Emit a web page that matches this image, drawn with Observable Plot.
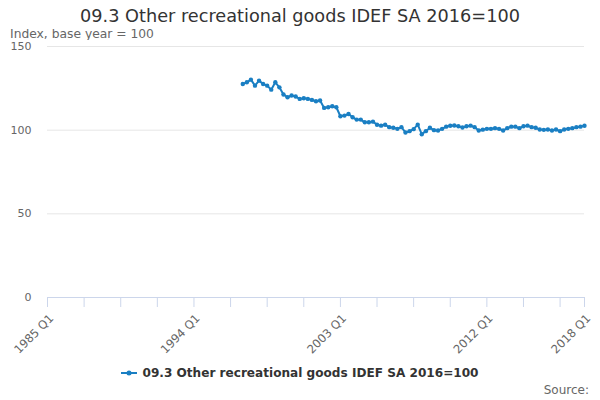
<!DOCTYPE html>
<html>
<head>
<meta charset="utf-8">
<script src="https://cdn.jsdelivr.net/npm/d3@7"></script>
<script src="https://cdn.jsdelivr.net/npm/@observablehq/plot@0.6"></script>
<style>
  html, body { margin: 0; padding: 0; background: #fff; }
  #wrap { position: relative; width: 600px; height: 400px; font-family: "DejaVu Sans", sans-serif; overflow: hidden; }
  #title { position: absolute; left: 0; width: 600px; top: 6px; text-align: center; font-size: 17.7px; color: #333; line-height: 20px; }
  #subtitle { position: absolute; left: 10px; top: 27px; font-size: 12.3px; color: #666; line-height: 14px; }
  #chart { position: absolute; left: 0; top: 40px; }
  #legend { position: absolute; left: 0; width: 600px; top: 365px; text-align: center; font-size: 12.1px; font-weight: bold; color: #333; line-height: 16px; }
  #legend svg { vertical-align: middle; margin-right: 5px; position: relative; top: -1px; }
  #source { position: absolute; right: 11px; top: 382px; font-size: 12px; color: #666; line-height: 16px; }
</style>
</head>
<body>
<div id="wrap">
  <div id="title"></div>
  <div id="subtitle"></div>
  <div id="chart"></div>
  <div id="legend"></div>
  <div id="source"></div>
</div>
<script>
const titleText = "09.3 Other recreational goods IDEF SA 2016=100";
const subtitleText = "Index, base year = 100";
const seriesName = "09.3 Other recreational goods IDEF SA 2016=100";
const sourceText = "Source:";
const axisStart = "1985 Q1";
const axisEnd = "2018 Q1";
const firstQuarter = "1997 Q1";
const tickLabels = ["1985 Q1", "1994 Q1", "2003 Q1", "2012 Q1", "2018 Q1"];
const tickStepQuarters = 9;
const yTicks = [0, 50, 100, 150];
const values = [
  127.6, 128.6, 130.2, 126.6, 129.6, 127.6, 126.6, 124.2, 128.6, 125.6,
  121.3, 119.7, 120.7, 120.1, 118.7, 119.1, 118.7, 118.1, 117.3, 117.7,
  113.3, 113.7, 114.3, 113.7, 108.3, 108.7, 109.7, 107.7, 106.3, 106.3,
  104.7, 104.7, 105.1, 103.2, 102.7, 103.2, 101.8, 101.4, 100.8, 101.8,
  98.6, 99.4, 100.6, 103.3, 97.6, 99.4, 101.4, 100.0, 99.8, 100.8,
  102.1, 102.6, 102.8, 102.3, 101.6, 102.3, 102.7, 101.8, 99.8, 100.3,
  100.8, 100.8, 101.2, 100.8, 99.8, 101.2, 102.1, 102.1, 101.2, 102.3,
  102.7, 101.8, 101.4, 100.4, 100.2, 100.4, 99.8, 100.4, 99.4, 100.4,
  100.8, 101.2, 101.8, 102.1, 102.6
];

const color = "#1a7fc3";

function qIndex(label) {
  const [y, q] = label.split(" Q");
  const [y0] = axisStart.split(" Q");
  return (+y - +y0) * 4 + (+q - 1);
}
function qLabel(i) {
  const [y0] = axisStart.split(" Q");
  return `${+y0 + Math.floor(i / 4)} Q${(i % 4) + 1}`;
}

const start = qIndex(firstQuarter);
const data = values.map((v, k) => ({ i: start + k, quarter: qLabel(start + k), value: v }));

const endIdx = qIndex(axisEnd);
const labelIdx = tickLabels.map(qIndex);
const tickIdx = d3.range(0, endIdx + 1, tickStepQuarters).concat([endIdx]);

document.getElementById("title").textContent = titleText;
document.getElementById("subtitle").textContent = subtitleText;
document.getElementById("source").textContent = sourceText;

const plot = Plot.plot({
  width: 600,
  height: 320,
  marginTop: 6,
  marginBottom: 63,
  marginLeft: 47,
  marginRight: 16,
  style: { fontFamily: "DejaVu Sans, sans-serif", fontSize: "11px", color: "#666", background: "#fff" },
  x: { type: "linear", domain: [0, endIdx] },
  y: { domain: [0, 150] },
  marks: [
    Plot.ruleY(yTicks.filter(d => d > 0), { stroke: "#e6e6e6", strokeWidth: 1 }),
    Plot.axisY({ ticks: yTicks, tickSize: 0, tickPadding: 16, label: null, fill: "#666", fontSize: 11 }),
    Plot.ruleY([0], { stroke: "#ccd6eb", strokeWidth: 1 }),
    Plot.axisX({
      ticks: tickIdx,
      tickSize: 10,
      tickPadding: 0,
      tickRotate: -45,
      stroke: "#ccd6eb",
      fill: "none",
      label: null,
      tickFormat: () => ""
    }),
    Plot.text(labelIdx, {
      x: d => d,
      y: 0,
      text: d => qLabel(d),
      rotate: -45,
      textAnchor: "end",
      dx: 4,
      dy: 19,
      fill: "#666",
      fontSize: 11.6
    }),
    Plot.line(data, { x: "i", y: "value", stroke: color, strokeWidth: 2 }),
    Plot.dot(data, { x: "i", y: "value", fill: color, r: 2.2 })
  ]
});
document.getElementById("chart").appendChild(plot);

const legend = document.getElementById("legend");
legend.innerHTML = `<svg width="16" height="10"><line x1="0" y1="5" x2="16" y2="5" stroke="${color}" stroke-width="2"/><circle cx="8" cy="5" r="2.5" fill="${color}"/></svg>`;
legend.appendChild(document.createTextNode(seriesName));
</script>
</body>
</html>
